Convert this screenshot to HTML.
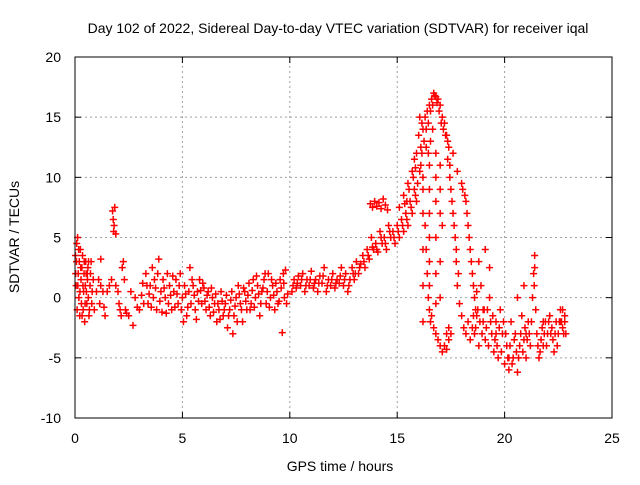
<!DOCTYPE html>
<html><head><meta charset="utf-8"><style>
body{margin:0;background:#fff;width:640px;height:480px;overflow:hidden}
svg text{font-family:"Liberation Sans",Arial,sans-serif;font-size:14px;fill:#000}
</style></head><body>
<svg id="chart" width="640" height="480" xmlns="http://www.w3.org/2000/svg">
<text x="338" y="33" text-anchor="middle">Day 102 of 2022, Sidereal Day-to-day VTEC variation (SDTVAR) for receiver iqal</text>
<text transform="translate(19,237) rotate(-90)" text-anchor="middle">SDTVAR / TECUs</text>
<text x="340" y="471" text-anchor="middle">GPS time / hours</text>
<g id="grid"></g>
<g id="ticks"></g>
<g id="pts"></g>
<rect x="75" y="57" width="537" height="361" fill="none" stroke="#000" stroke-width="1"/>
</svg>
<script>
const xTicks=[0,5,10,15,20,25];
const yTicks=[-10,-5,0,5,10,15,20];
const hours=[0.02,0.05,0.08,0.1,0.12,0.15,0.18,0.2,0.22,0.25,0.28,0.3,0.32,0.35,0.38,0.4,0.42,0.45,0.48,0.5,0.52,0.55,0.58,0.6,0.62,0.65,0.7,0.75,0.8,0.85,0.9,1.0,1.1,1.15,1.2,1.3,1.35,1.2,1.4,1.5,1.6,1.75,1.78,1.8,1.82,1.85,1.9,1.7,1.9,2.0,2.05,2.1,2.15,2.2,2.25,2.3,2.35,2.4,2.5,2.6,2.7,2.8,2.9,3.0,3.1,3.2,3.3,3.35,3.4,3.5,3.6,3.65,3.7,3.8,3.85,3.9,4.0,4.05,4.1,4.2,4.3,4.35,4.4,4.5,4.6,4.7,4.8,4.9,5.0,5.05,5.1,5.2,5.3,5.35,5.4,5.5,5.6,5.7,5.8,5.9,6.0,6.1,6.2,6.3,6.4,6.5,6.6,6.7,6.8,6.9,7.0,7.1,7.2,7.3,7.35,7.4,7.5,7.6,7.7,7.8,7.9,8.0,8.1,8.2,8.3,8.4,8.5,8.6,8.7,8.8,8.9,9.0,9.1,9.2,9.3,9.4,9.5,9.55,9.65,9.7,9.75,9.8,9.85,
10.1,10.2,10.3,10.4,10.5,10.6,10.7,10.8,10.9,11.0,11.1,11.2,11.3,11.4,11.5,11.6,11.7,11.8,11.9,12.0,12.1,12.2,12.3,12.4,12.5,12.6,12.7,12.8,12.9,13.0,13.1,13.2,13.3,13.4,13.5,13.6,13.7,13.8,13.9,14.0,14.1,14.2,14.3,14.4,14.5,14.6,14.7,14.8,14.9,15.0,15.1,15.2,15.3,15.4,15.5,15.6,15.7,15.8,15.9,
13.75,13.85,13.95,14.05,14.15,14.25,14.35,14.45,14.55,
15.1,15.3,15.5,15.7,15.8,15.9,16.0,16.1,16.2,16.3,16.4,16.5,16.6,16.7,16.8,16.9,17.0,17.1,17.2,17.3,17.35,17.4,
16.05,16.15,16.25,16.35,16.45,16.55,16.65,
16.1,16.2,16.3,16.35,16.4,16.45,16.5,16.55,16.6,16.7,16.8,16.9,17.0,17.1,17.2,17.3,17.4,17.5,
16.2,16.2,16.2,16.2,16.2,16.8,16.8,16.8,16.8,16.8,16.8,17.1,
17.45,17.5,17.6,17.7,17.75,17.8,17.9,18.0,18.1,18.2,18.3,18.4,18.5,
17.6,17.8,18.0,18.2,18.3,18.4,18.5,18.6,18.7,
18.6,18.7,18.8,18.9,19.0,19.1,19.2,19.3,19.4,19.5,19.6,19.7,19.8,19.9,20.0,20.1,20.2,20.3,20.4,20.5,20.6,20.7,20.8,20.9,21.0,21.1,21.2,21.3,21.35,21.4,21.45,21.5,21.6,21.7,21.8,21.9,22.0,22.1,22.2,22.3,22.4,22.5,22.6,22.7,22.8,22.85,
18.8,19.3,19.1,20.6,20.9,19.0,19.6,20.2,21.0,21.8,22.6,
0.03,0.07,0.13,0.17,0.23,0.27,0.33,0.37,0.43,0.47,0.53,0.57,0.63,0.67,0.72,0.78,
3.15,3.45,3.55,3.75,3.95,4.15,4.25,4.45,4.55,4.65,4.75,4.85,4.95,5.15,5.25,5.45,5.55,5.65,5.75,5.85,5.95,6.05,6.15,6.25,6.35,6.45,6.55,6.65,6.75,6.85,6.95,7.05,7.15,7.25,7.45,7.55,7.65,7.75,7.85,7.95,8.05,8.15,8.25,8.35,8.45,8.55,8.65,8.75,8.85,8.95,9.05,9.15,9.25,9.35,9.45,9.6,9.72,9.9,
10.15,10.35,10.55,10.75,10.95,11.15,11.35,11.55,11.75,11.95,12.15,12.35,12.55,12.75,12.95,
13.05,13.25,13.45,13.65,13.85,14.05,14.25,14.45,14.65,14.85,15.05,15.25,15.45,15.65,15.85,15.95,16.05,16.15,15.35,15.45,15.55,15.75,15.85,
16.35,16.45,16.55,16.65,16.75,16.85,16.95,17.05,17.15,17.25,
16.5,16.5,16.5,16.5,16.5,16.5,17.0,17.0,17.0,17.0,17.0,
17.35,17.45,17.55,17.65,17.75,17.85,17.3,17.4,
18.05,18.15,18.25,18.35,18.45,18.55,18.65,
18.55,18.65,18.75,18.85,18.95,19.05,19.15,19.25,19.35,19.45,19.55,19.65,19.75,19.85,19.95,20.05,20.15,20.25,20.35,20.45,20.55,20.65,20.75,20.85,20.95,21.05,21.15,21.25,21.4,21.38,21.55,21.65,21.75,21.85,21.95,22.05,22.15,22.25,22.35,22.45,22.55,22.65,22.75,22.8,22.7];
const sdtvar=[3.5,1,4.5,-1,5,2,0,3,-1.5,4,1.5,-0.5,2.5,3.5,-1,0.5,2,-2,1,3,2,-0.5,1.5,2.5,0,-1.5,1,3,0.5,1.5,-1,0.5,1.5,-0.5,1,0.5,-0.8,3.2,-1.5,0.5,1,7.2,6.5,5.5,6,7.5,5.3,1.5,1,0.5,-0.5,-1,-1.5,2.5,3,1.5,-1,-1.3,-1.5,0.5,-2.3,0,-0.8,-1,0.2,-0.5,2,1,-0.5,1,2.5,0,1.5,-1,2,3.2,0.5,-1.2,1.5,0,2,-0.5,1,-1,0.5,1.5,-0.5,2,0,-2,1,-1.5,0.5,2.5,-0.5,1,-1,0.5,1.5,-0.5,0.8,-1,0.5,-1.5,0,-0.5,-2,-1,0.5,-1.5,-0.5,-2.5,-1,0.5,-3,-1.5,0,1,-0.5,-2,0.5,-1,1.2,-0.5,1.5,0,1,-1.5,0.5,1.5,-0.5,2,0,1,-1,0.5,-0.3,1.5,-2.9,2,0,2.3,-0.5,
0.5,1.5,0.8,1.8,1,2,0.5,1.5,1,2.2,0.8,1.5,0.5,1.8,1.2,2.5,0.5,1.5,1,2,0.8,1.5,1.2,2.5,1,2,0.5,1.5,2.5,1.5,3,2,2.8,3.5,2.5,4,3.2,5,4,4.5,3.8,5.5,4.5,5,4,6,5,5.5,4.5,6,5,6.5,5.5,7,6,8,7,9,8,
7.8,7.5,8,7.6,7.9,7.4,8.2,7.7,7.3,
7.5,8.5,9.5,10.5,11.5,12,13.5,12.5,14,15,15.5,16,16.5,17,16.7,16.5,16,15,14.5,13.5,13,12.5,
15,14.5,13,12.5,12,13,14,
11,9,6,4,2,0,-1,-2,-1.5,-2.5,-3,-3.5,-4,-4.5,-4,-4.3,-3.5,-3,
10,7,4,1,-2,12,10,8,5,2,-0.5,6,
11,9,7,5,3,1,-0.5,-1.5,-2.5,-3,-2,-3.5,-2.5,
12,10.5,9.5,8,6,4,2,0,-1.5,
-3,0.5,-4,1,-2,-3.5,-1,0,-3,-4.5,-2,-5,-1,-3,-5.5,-4,-6,-2,-5,-3,-6.2,-4,-1.5,-3.5,-5,-2,-4,0,2,3.5,-1,-3,-5,-3.5,-4,-2,-3,-1.5,-2.5,-4.5,-2,-3,-1,-2.5,-1.5,-3,
3,2.5,4,0,1,-1,-3,-5,-3,-2,-2,
2,3,1,4,0.5,2.5,-1.5,1,3,-0.5,0.5,2,3,-1,2,-0.5,
1.2,0.3,-0.8,0.8,-0.3,0.8,-1.3,0.2,1.8,-0.8,0.3,1,-1,0.3,-0.8,1.5,0.2,-1.8,-0.3,0.6,1.2,-0.3,0.2,-0.8,0.8,-1.2,0.3,-0.5,-1.8,-0.3,-1,0.2,-1.5,-0.2,-0.7,-2,0.3,-1,0.8,-0.3,0.2,-1,0.6,-0.8,1.8,0.3,-0.5,0.8,2,0.5,-0.8,1.5,0.2,1.2,-0.5,0.8,1.2,0.3,
1,1.2,1.5,1,1.5,1.2,1.2,1.8,1,1.5,1.2,1.8,1.5,1,2,
2,2.5,3,3.5,4.2,4,5,4.5,5.5,5,5.5,6,6.5,7.5,8.5,9.5,10.5,12,7.8,8,9,10,10.8,
14,14.5,15.5,16,16.8,16.2,15.5,14.5,14,13.5,
11,9,7,5,3,1,11,9,7,3,0,
11.5,10,8,6,4,2,-3,-2.5,
9,8.5,7,5,3,1,-1,
-1.5,-2.5,-1,-2,-3,-1,-2.5,-4,-2,-1.5,-3.5,-4,-2.5,-4.5,-2,-3,-5,-4,-5.5,-3.5,-4.5,-5,-3,-4.5,-2.5,-3.5,-3,-2,2.5,1,-4,-4.5,-2.5,-3,-4,-2,-3,-3.5,-3,-4,-2,-2,-3,-2,-1];
const NS="http://www.w3.org/2000/svg";
const X0=75,X1=612,Y0=418,Y1=57;
function sx(v){return X0+(v-0)/(25-0)*(X1-X0);}
function sy(v){return Y0-(v-(-10))/(20-(-10))*(Y0-Y1);}
function mk(tag,attrs,parent){const e=document.createElementNS(NS,tag);for(const k in attrs)e.setAttribute(k,attrs[k]);parent.appendChild(e);return e;}
const grid=document.getElementById('grid'),ticks=document.getElementById('ticks'),pts=document.getElementById('pts');
xTicks.forEach(t=>{const x=sx(t);
 if(t>0&&t<25){const g=mk('line',{x1:x,x2:x,y1:Y0,y2:Y1,stroke:'#a0a0a0','stroke-dasharray':'2,3'},grid);
 
 }
 mk('line',{x1:x,x2:x,y1:Y0,y2:Y0-6,stroke:'#000'},ticks);
 mk('line',{x1:x,x2:x,y1:Y1,y2:Y1+6,stroke:'#000'},ticks);
 const tx=mk('text',{x:x,y:443,'text-anchor':'middle'},ticks);tx.textContent=t;
 
 
});
yTicks.forEach(t=>{const y=sy(t);
 if(t>-10&&t<20){const g=mk('line',{x1:X0,x2:X1,y1:y,y2:y,stroke:'#a0a0a0','stroke-dasharray':'2,3'},grid);
 
 }
 mk('line',{x1:X0,x2:X0+6,y1:y,y2:y,stroke:'#000'},ticks);
 mk('line',{x1:X1,x2:X1-6,y1:y,y2:y,stroke:'#000'},ticks);
 const tx=mk('text',{x:61,y:y+5,'text-anchor':'end'},ticks);tx.textContent=t;
 
 
});
let d='';
for(let i=0;i<Math.min(hours.length,sdtvar.length);i++){const x=sx(hours[i]),y=sy(sdtvar[i]);
 d+=`M${x-3.5},${y}h7M${x},${y-3.5}v7`;}
const p=mk('path',{d:d,stroke:'#ff0000','stroke-width':1.5,fill:'none'},pts);


</script>
</body></html>
